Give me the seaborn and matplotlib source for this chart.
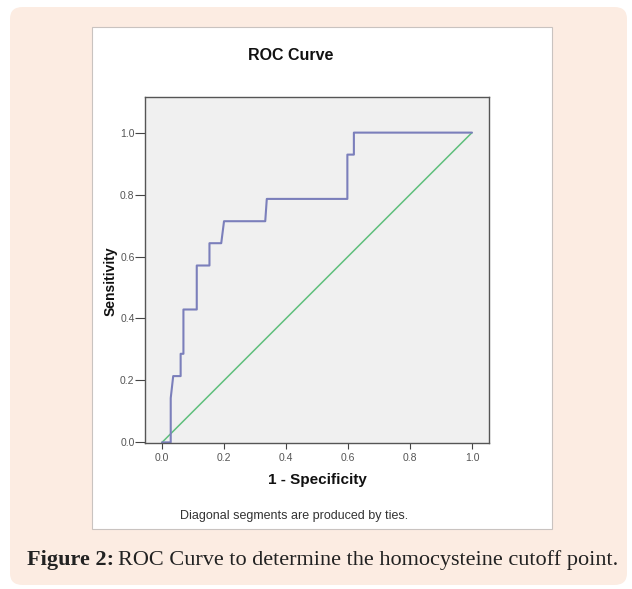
import matplotlib
matplotlib.use("Agg")
import matplotlib.pyplot as plt
from matplotlib.patches import FancyBboxPatch, Rectangle
import seaborn as sns
import pandas as pd

# ---- data ----
fpr = [0.0, 0.028, 0.028, 0.036, 0.060, 0.060, 0.069, 0.069, 0.112, 0.112,
       0.153, 0.153, 0.191, 0.200, 0.333, 0.338, 0.598, 0.598, 0.619, 0.619, 1.0]
tpr = [0.0, 0.0, 0.143, 0.214, 0.214, 0.286, 0.286, 0.429, 0.429, 0.571,
       0.571, 0.643, 0.643, 0.714, 0.714, 0.786, 0.786, 0.929, 0.929, 1.0, 1.0]
ref_x = [0.0, 1.0]
ref_y = [0.0, 1.0]
ticks = [0.0, 0.2, 0.4, 0.6, 0.8, 1.0]
tick_labels = ["0.0", "0.2", "0.4", "0.6", "0.8", "1.0"]

sns.set_style("ticks")
plt.rcParams["font.family"] = ["Liberation Sans", "DejaVu Sans"]

W, H = 632, 589
fig = plt.figure(figsize=(W / 100, H / 100), dpi=100)
fig.patch.set_facecolor("white")

def fx(px):
    return px / W

def fy(py):
    return 1 - py / H

# peach rounded background
bg = FancyBboxPatch((fx(10), fy(585)), fx(617), 578 / H,
                    boxstyle="round,pad=0,rounding_size=0.02",
                    transform=fig.transFigure, facecolor="#fcece2",
                    edgecolor="none", zorder=-2)
fig.patches.append(bg)
# white panel
panel = Rectangle((fx(92), fy(529)), fx(460), 502 / H,
                  transform=fig.transFigure, facecolor="white",
                  edgecolor="#c9c3c0", linewidth=0.8, zorder=-1)
fig.patches.append(panel)

ax = fig.add_axes([fx(145), fy(443), fx(489 - 145), (443 - 97) / H])
ax.set_zorder(2)
ax.set_facecolor("#f0f0f0")

roc = pd.DataFrame({"fpr": fpr, "tpr": tpr})
diag = pd.DataFrame({"x": ref_x, "y": ref_y})
sns.lineplot(data=diag, x="x", y="y", ax=ax, color="#5fbf7c",
             linewidth=1.1, sort=False, estimator=None)
sns.lineplot(data=roc, x="fpr", y="tpr", ax=ax, color="#7b7fbb",
             linewidth=1.5, sort=False, estimator=None)

ax.set_xlim(-0.055, 1.055)
ax.set_ylim(-0.002, 1.115)
ax.set_xticks(ticks)
ax.set_xticklabels(tick_labels)
ax.set_yticks(ticks)
ax.set_yticklabels(tick_labels)
ax.tick_params(axis="both", direction="out", width=0.8,
               color="#444444", labelsize=7.5, labelcolor="#555555")
ax.tick_params(axis="x", length=4, pad=3)
ax.tick_params(axis="y", length=7, pad=0.5)
for s in ax.spines.values():
    s.set_color("#555555")
    s.set_linewidth(1.0)
    s.set_visible(True)

ax.set_xlabel("")
ax.set_ylabel("")
fig.text(fx(317), fy(480), "1 - Specificity", ha="center", va="center",
         fontsize=11, fontweight="bold", color="#111111", zorder=3)
fig.text(fx(111), fy(281), "Sensitivity", ha="center", va="center",
         rotation=90, fontsize=10, fontweight="bold", color="#111111", zorder=3)
fig.text(fx(291), fy(55), "ROC Curve", ha="center", va="center",
         fontsize=11.5, fontweight="bold", color="#111111", zorder=3)
fig.text(fx(294), fy(516), "Diagonal segments are produced by ties.",
         ha="center", va="center", fontsize=9, color="#333333", zorder=3)

# caption with bold lead
cap_y = fy(560)
t1 = fig.text(fx(27), cap_y, "Figure 2:", ha="left", va="center",
              fontsize=16, fontweight="bold", color="#222222",
              family=["Liberation Serif", "DejaVu Serif"], zorder=3)
fig.canvas.draw()
bb = t1.get_window_extent()
x2 = bb.x1 / fig.bbox.width
fig.text(x2 + 4 / W, cap_y, "ROC Curve to determine the homocysteine cutoff point.",
         ha="left", va="center", fontsize=16, color="#222222",
         family=["Liberation Serif", "DejaVu Serif"], zorder=3)

fig.savefig("out.png", dpi=100, facecolor=fig.get_facecolor())
